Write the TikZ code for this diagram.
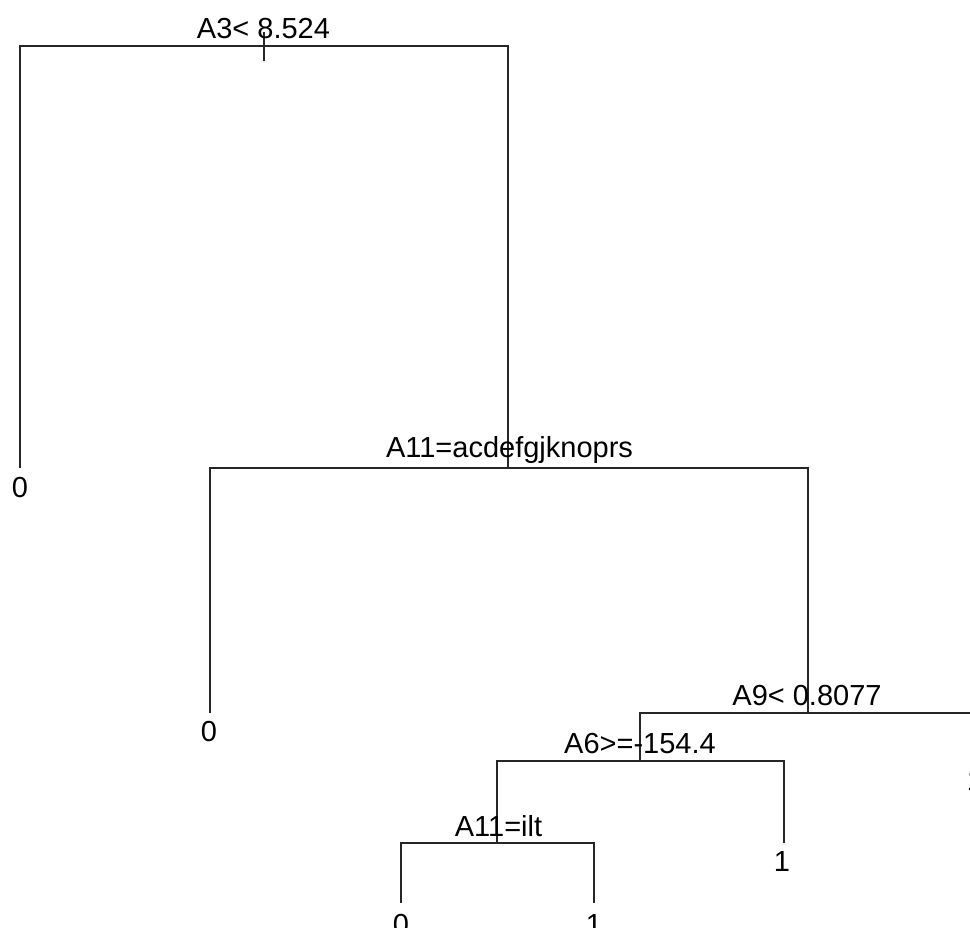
\documentclass[tikz,border=0pt]{standalone}
\usepackage{fontspec}
\setmainfont{Liberation Sans}
\begin{document}
\begin{tikzpicture}[x=1pt,y=-1pt,
  edge/.style={line width=1.6pt,draw=black!85},
  splitlab/.style={anchor=base,inner sep=0pt,font=\fontsize{29}{34}\selectfont},
  leaflab/.style={anchor=base,inner sep=0pt,font=\fontsize{29}{34}\selectfont}]
\useasboundingbox (0,0) rectangle (970,928);
\clip (0,0) rectangle (970,928);
% tree node positions
\coordinate (n1) at (264,46);
\coordinate (n2) at (20,468);
\coordinate (n3) at (508,468);
\coordinate (n6) at (210,713);
\coordinate (n7) at (808,713);
\coordinate (n14) at (640,761);
\coordinate (n15) at (975,761);
\coordinate (n28) at (497,843);
\coordinate (n29) at (784,843);
\coordinate (n56) at (401,903);
\coordinate (n57) at (594,903);
\coordinate (t1) at (264,32);
\coordinate (t2) at (264,61);
% branches
\draw[edge] (t1) -- (t2);
\draw[edge] (n1) -| (n2);
\draw[edge] (n1) -| (n3);
\draw[edge] (n3) -| (n6);
\draw[edge] (n3) -| (n7);
\draw[edge] (n7) -| (n14);
\draw[edge] (n7) -| (n15);
\draw[edge] (n14) -| (n28);
\draw[edge] (n14) -| (n29);
\draw[edge] (n28) -| (n56);
\draw[edge] (n28) -| (n57);
% split labels
\node[splitlab] (l1) at (263.5,39) {A3< 8.524};
\node[splitlab] (l3) at (509.5,457) {A11=acdefgjknoprs};
\node[splitlab] (l7) at (807,705) {A9< 0.8077};
\node[splitlab] (l14) at (640,753) {A6>=-154.4};
\node[splitlab] (l28) at (498.5,836) {A11=ilt};
% leaf labels
\node[leaflab] (f2) at (20,497) {0};
\node[leaflab] (f6) at (209,741) {0};
\node[leaflab] (f15) at (975,790) {1};
\node[leaflab] (f29) at (782,871) {1};
\node[leaflab] (f56) at (401,934) {0};
\node[leaflab] (f57) at (594,934) {1};
\end{tikzpicture}
\end{document}
